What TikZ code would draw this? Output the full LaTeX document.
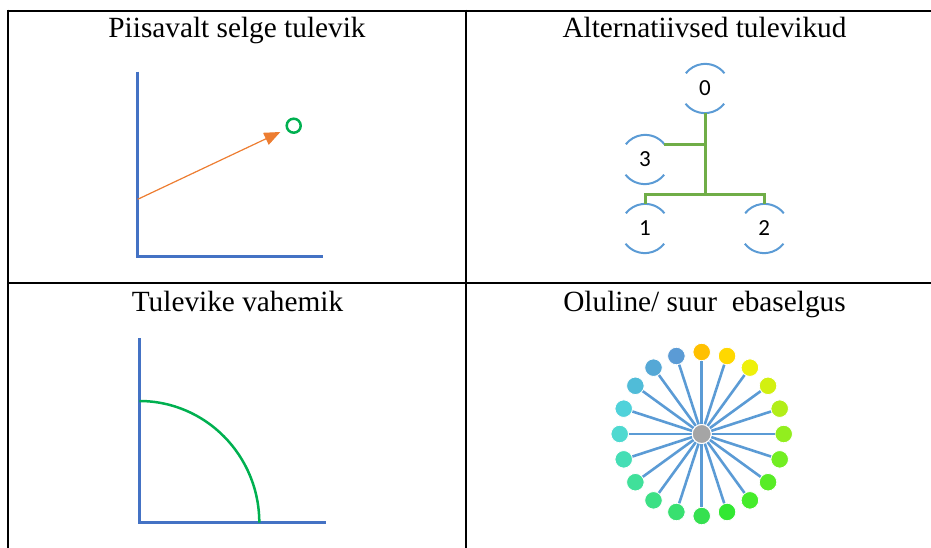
\documentclass[tikz,border=0pt]{standalone}
\usepackage{fontspec}
\setmainfont{Liberation Serif}
\newfontfamily\numfont{Carlito}
\usepackage{tikz}
\usetikzlibrary{arrows.meta,calc}
\definecolor{axBlue}{HTML}{4472C4}
\definecolor{arcBlue}{HTML}{5B9BD5}
\definecolor{goalGreen}{HTML}{00B050}
\definecolor{treeGreen}{HTML}{70AD47}
\definecolor{arrOrange}{HTML}{ED7D31}
\definecolor{hubGrey}{HTML}{A5A5A5}
\tikzset{
  cellTitle/.style={anchor=base, inner sep=0pt, font=\fontsize{29.3}{34}\selectfont},
  gridLine/.style={draw=black, line width=2.2pt},
  axisLine/.style={draw=axBlue, line width=3pt},
  %% tree nodes: circle with only top and bottom arcs
  treeNode/.style={circle, minimum size=49pt, inner sep=0pt,
    font=\numfont\fontsize{23}{27}\selectfont},
  treeArc/.style={draw=arcBlue, line width=2pt},
  treeEdge/.style={draw=treeGreen, line width=3pt},
  %% spread of futures
  hubNode/.style={circle, fill=hubGrey, draw=white, line width=1pt, minimum size=19pt, inner sep=0pt},
  dotNode/.style={circle, minimum size=17.5pt, inner sep=0pt, draw=white, line width=0.8pt},
  spoke/.style={draw=arcBlue, line width=2.6pt},
}

\begin{document}
\begin{tikzpicture}[x=1pt, y=1pt]
\useasboundingbox (0,0) rectangle (931,-548);

%% table grid
\draw[gridLine] (7.2,-10.7) -- (931,-10.7);
\draw[gridLine] (8.3,-9.6) -- (8.3,-548);
\draw[gridLine] (466,-9.6) -- (466,-548);
\draw[gridLine] (7.2,-282.7) -- (931,-282.7);

\node[cellTitle] (tClear)  at (237,-38)   {Piisavalt selge tulevik};
\node[cellTitle] (tAlt)    at (704.5,-38) {Alternatiivsed tulevikud};
\node[cellTitle] (tRange)  at (237.5,-311) {Tulevike vahemik};
\node[cellTitle] (tUncert) at (704.5,-311) {Oluline/ suur\ \ ebaselgus};

%% clear future
\draw[axisLine] (137.7,-71.7) -- (137.7,-256.7) -- (323,-256.7);
\coordinate (cStart) at (137.7,-199.3);
\node[circle, draw=goalGreen, line width=2.5pt, minimum size=14pt, inner sep=0pt] (gGoal) at (293.7,-125.7) {};
\draw[draw=arrOrange, line width=1.2pt, -{Triangle[length=16pt,width=13pt]}, shorten >=6.5pt] (cStart) -- (gGoal);

%% alternative futures
\node[treeNode] (nZero)  at (705,-88.5)   {0};
\node[treeNode] (nThree) at (645,-159.5)  {3};
\node[treeNode] (nOne)   at (645,-228.5)  {1};
\node[treeNode] (nTwo)   at (764.3,-228.5) {2};
\foreach \n in {nZero, nThree, nOne, nTwo} {
  \draw[treeArc] (\n.38) arc[start angle=38, end angle=142, radius=24.5];
  \draw[treeArc] (\n.218) arc[start angle=218, end angle=322, radius=24.5];
}
\coordinate (cFork) at ($(nZero.south)+(0,-81)$);
\draw[treeEdge] (nZero.south) -- (cFork);
\draw[treeEdge] (nThree.38) -| (nZero.south);
\draw[treeEdge] (nOne.north) |- (cFork) -| (nTwo.north);

%% range of futures
\draw[axisLine] (139.3,-338.3) -- (139.3,-522.7) -- (325.7,-522.7);
\draw[draw=goalGreen, line width=2.5pt] (139.3,-401) arc[start angle=90, end angle=0, x radius=120, y radius=121.7];

%% big uncertainty
\node[hubNode] (nHub) at (701.7,-434) {};
\foreach \i/\c in {0/FFC000, 1/FFD800, 2/EEF00A, 3/D2F010, 4/B2EE18,
                   5/92EE1E, 6/72EE22, 7/58EC26, 8/45EC2A, 9/32E832,
                   10/35E050, 11/38E070, 12/3CE085, 13/40E09A, 14/45DEB5,
                   15/4ED9D0, 16/4FD2DA, 17/50BCD8, 18/55A8D6, 19/5B9BD5} {
  \definecolor{dotCol}{HTML}{\c}
  \node[dotNode, fill=dotCol] (dot\i) at ($(nHub)+({90-18*\i}:82)$) {};
  \draw[spoke] (nHub) -- (dot\i);
}
\node[hubNode] (nHubTop) at (nHub) {};

\end{tikzpicture}
\end{document}
